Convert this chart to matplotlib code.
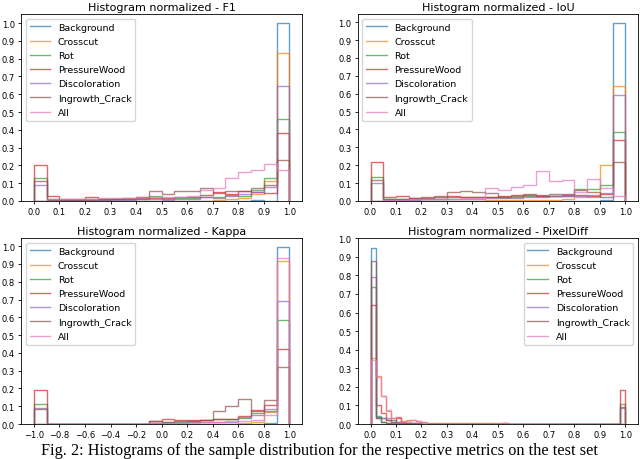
import matplotlib
matplotlib.use("Agg")
import matplotlib.pyplot as plt
from matplotlib.lines import Line2D
import numpy as np

CLASS_NAMES = ["Background", "Crosscut", "Rot", "PressureWood",
               "Discoloration", "Ingrowth_Crack", "All"]
CLASS_COLORS = ["tab:blue", "tab:orange", "tab:green", "tab:red",
                "tab:purple", "tab:brown", "tab:pink"]

# bin edges per metric
F1_EDGES = np.linspace(0.0, 1.0, 21)
IOU_EDGES = np.linspace(0.0, 1.0, 21)
KAPPA_EDGES = np.linspace(-1.0, 1.0, 21)
PIXEL_EDGES = np.linspace(0.0, 1.0, 51)

# normalized bin heights
F1_BACKGROUND = [0, 0, 0, 0, 0, 0, 0, 0, 0, 0, 0, 0, 0, 0, 0, 0, 0, 0.005, 0, 1.0]
F1_CROSSCUT = [0, 0, 0, 0, 0, 0, 0, 0, 0, 0, 0, 0, 0, 0, 0.005, 0.01, 0.015, 0.04, 0.11, 0.83]
F1_ROT = [0.13, 0.01, 0.005, 0.005, 0.01, 0.005, 0.01, 0.01, 0.01, 0.025, 0.01, 0.015, 0.015,
          0.02, 0.02, 0.035, 0.03, 0.06, 0.13, 0.46]
F1_PRESSURE = [0.20, 0.025, 0.01, 0.012, 0.02, 0.01, 0.01, 0.015, 0.02, 0.015, 0.015, 0.02,
               0.02, 0.035, 0.05, 0.04, 0.055, 0.05, 0.045, 0.38]
F1_DISCOLOR = [0.09, 0.005, 0.005, 0.005, 0.005, 0.005, 0.005, 0.005, 0.01, 0.01, 0.005, 0.01,
               0.01, 0.02, 0.015, 0.03, 0.04, 0.05, 0.08, 0.645]
F1_INGROWTH = [0.11, 0.005, 0.005, 0.005, 0.005, 0.01, 0.01, 0.01, 0.015, 0.055, 0.04, 0.055,
               0.055, 0.075, 0.045, 0.055, 0.055, 0.075, 0.09, 0.23]
F1_ALL = [0.0, 0.01, 0.01, 0.01, 0.01, 0.015, 0.015, 0.015, 0.02, 0.02, 0.02, 0.02,
          0.025, 0.06, 0.07, 0.13, 0.16, 0.175, 0.21, 0.175]

IOU_BACKGROUND = [0, 0, 0, 0, 0, 0, 0, 0, 0, 0, 0, 0, 0, 0, 0, 0, 0, 0, 0.005, 0.995]
IOU_CROSSCUT = [0, 0, 0, 0, 0, 0, 0, 0, 0, 0.005, 0.005, 0.005, 0.005, 0.005, 0.005, 0.01,
                0.02, 0.02, 0.20, 0.645]
IOU_ROT = [0.135, 0.01, 0.01, 0.01, 0.01, 0.01, 0.02, 0.02, 0.02, 0.02, 0.02, 0.02, 0.025,
           0.025, 0.025, 0.03, 0.065, 0.065, 0.09, 0.385]
IOU_PRESSURE = [0.22, 0.02, 0.025, 0.015, 0.015, 0.02, 0.025, 0.02, 0.02, 0.02, 0.03, 0.035,
                0.035, 0.03, 0.03, 0.035, 0.035, 0.03, 0.04, 0.34]
IOU_DISCOLOR = [0.10, 0.005, 0.005, 0.005, 0.01, 0.01, 0.01, 0.01, 0.01, 0.015, 0.015, 0.015,
                0.02, 0.02, 0.025, 0.03, 0.03, 0.035, 0.045, 0.595]
IOU_INGROWTH = [0.115, 0.01, 0.01, 0.015, 0.02, 0.025, 0.05, 0.055, 0.05, 0.045, 0.02, 0.025,
                0.04, 0.035, 0.04, 0.04, 0.06, 0.05, 0.02, 0.22]
IOU_ALL = [0.0, 0.005, 0.005, 0.01, 0.01, 0.01, 0.01, 0.015, 0.015, 0.07, 0.06, 0.08,
           0.09, 0.165, 0.11, 0.115, 0.05, 0.12, 0.07, 0.03]

KAPPA_BACKGROUND = [0, 0, 0, 0, 0, 0, 0, 0, 0, 0, 0, 0, 0, 0, 0, 0, 0, 0, 0.005, 0.995]
KAPPA_CROSSCUT = [0, 0, 0, 0, 0, 0, 0, 0, 0, 0, 0, 0, 0, 0, 0, 0, 0.005, 0.01, 0.07, 0.915]
KAPPA_ROT = [0.115, 0, 0, 0, 0, 0, 0, 0, 0, 0.005, 0.01, 0.01, 0.015, 0.02, 0.03, 0.03,
             0.035, 0.06, 0.075, 0.585]
KAPPA_PRESSURE = [0.19, 0, 0, 0, 0, 0, 0, 0, 0, 0.015, 0.03, 0.02, 0.02, 0.025, 0.03, 0.03,
                  0.045, 0.08, 0.105, 0.42]
KAPPA_DISCOLOR = [0.09, 0, 0, 0, 0, 0, 0, 0, 0, 0.005, 0.005, 0.005, 0.01, 0.01, 0.01, 0.01,
                  0.04, 0.05, 0.085, 0.69]
KAPPA_INGROWTH = [0.085, 0, 0, 0, 0, 0, 0, 0, 0, 0.015, 0.01, 0.015, 0.015, 0.02, 0.075, 0.10,
                  0.14, 0.075, 0.135, 0.32]
KAPPA_ALL = [0.0, 0, 0, 0, 0, 0, 0, 0, 0, 0.005, 0.005, 0.005, 0.005, 0.01, 0.01, 0.015,
             0.015, 0.02, 0.05, 0.935]

PIXEL_BACKGROUND = [0.945, 0.04, 0.01, 0.005] + [0] * 46
PIXEL_CROSSCUT = ([0.355, 0.26, 0.15, 0.07, 0.035, 0.04, 0.015, 0.02, 0.02, 0.015, 0.01]
                  + [0.003] * 15 + [0.008] + [0] * 23)
PIXEL_ROT = ([0.74, 0.045, 0.035, 0.02, 0.02, 0.01, 0.005, 0.005, 0.005, 0.005]
             + [0.002] * 10 + [0] * 29 + [0.11])
PIXEL_PRESSURE = ([0.64, 0.105, 0.06, 0.02, 0.01, 0.03, 0.01, 0.005, 0.005, 0.005]
                  + [0] * 16 + [0.008] + [0] * 22 + [0.185])
PIXEL_DISCOLOR = ([0.79, 0.03, 0.03, 0.03, 0.01, 0.01, 0.005, 0.005, 0.005, 0.005]
                  + [0] * 39 + [0.085])
PIXEL_INGROWTH = ([0.88, 0.03, 0.01, 0.005, 0.005, 0.005, 0.005, 0.005]
                  + [0] * 41 + [0.09])
PIXEL_ALL = ([0.345, 0.255, 0.15, 0.075, 0.035, 0.04, 0.01, 0.015, 0.02, 0.015, 0.01]
             + [0.002] * 15 + [0.005] + [0] * 23)

PANELS = [
    ("F1", F1_EDGES, [F1_BACKGROUND, F1_CROSSCUT, F1_ROT, F1_PRESSURE,
                      F1_DISCOLOR, F1_INGROWTH, F1_ALL]),
    ("IoU", IOU_EDGES, [IOU_BACKGROUND, IOU_CROSSCUT, IOU_ROT, IOU_PRESSURE,
                        IOU_DISCOLOR, IOU_INGROWTH, IOU_ALL]),
    ("Kappa", KAPPA_EDGES, [KAPPA_BACKGROUND, KAPPA_CROSSCUT, KAPPA_ROT, KAPPA_PRESSURE,
                            KAPPA_DISCOLOR, KAPPA_INGROWTH, KAPPA_ALL]),
    ("PixelDiff", PIXEL_EDGES, [PIXEL_BACKGROUND, PIXEL_CROSSCUT, PIXEL_ROT, PIXEL_PRESSURE,
                                PIXEL_DISCOLOR, PIXEL_INGROWTH, PIXEL_ALL]),
]

# axes rectangles in figure fraction (figure is 640x460 px)
AXES_RECTS = [
    [0.033, 0.561, 0.439, 0.406],
    [0.559, 0.561, 0.438, 0.406],
    [0.033, 0.076, 0.439, 0.404],
    [0.559, 0.076, 0.438, 0.404],
]
LEGEND_LOCS = ["upper left", "upper left", "upper left", "upper right"]

fig = plt.figure(figsize=(6.4, 4.6), dpi=100)

for (metric, edges, series), rect, loc in zip(PANELS, AXES_RECTS, LEGEND_LOCS):
    ax = fig.add_axes(rect)
    for name, color, values in zip(CLASS_NAMES, CLASS_COLORS, series):
        ax.hist(edges[:-1], bins=edges, weights=values, histtype="step",
                color=color, alpha=0.7, linewidth=1.0)
    ax.set_title(f"Histogram normalized - {metric}", fontsize=8.0, pad=3)
    ax.set_yticks(np.arange(0, 1.01, 0.1))
    if metric == "Kappa":
        ax.set_xticks(np.arange(-1.0, 1.01, 0.2))
    else:
        ax.set_xticks(np.arange(0, 1.01, 0.1))
    ax.tick_params(labelsize=6, length=2.5, width=0.6, pad=2)
    for spine in ax.spines.values():
        spine.set_linewidth(0.6)
    # line handles, like the old step-histogram legend
    handles = [Line2D([], [], color=c, alpha=0.7, linewidth=1.0) for c in CLASS_COLORS]
    ax.legend(handles, CLASS_NAMES, loc=loc, fontsize=6.8, handlelength=2.2,
              borderpad=0.4, labelspacing=0.55, framealpha=0.8)

fig.text(0.064, 0.003,
         "Fig. 2: Histograms of the sample distribution for the respective metrics on the test set",
         fontsize=11.7, family="Liberation Serif", va="bottom", ha="left")

fig.savefig("out.png", dpi=100)
